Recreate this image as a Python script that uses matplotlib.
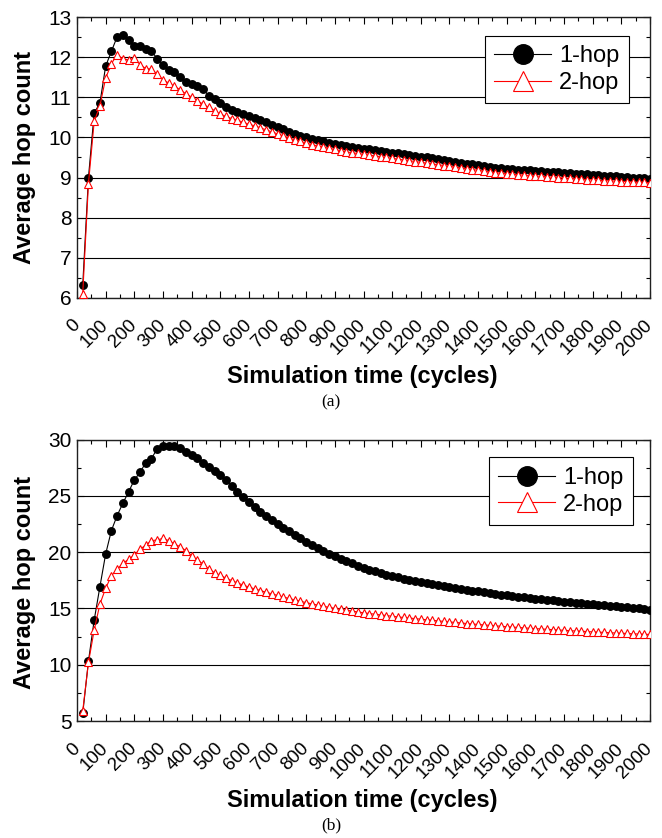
import matplotlib
matplotlib.use('Agg')
import matplotlib.pyplot as plt
import numpy as np
from matplotlib.ticker import MultipleLocator

plt.rcParams['font.family'] = ['Liberation Sans', 'DejaVu Sans']

# simulation time (cycles), one sample every 20 cycles
cycles = list(range(20, 2001, 20))

# (a) average hop count
a_1hop = [6.31, 9.00, 10.61, 10.86, 11.78, 12.15, 12.51, 12.56, 12.43, 12.28,
          12.28, 12.22, 12.15, 11.97, 11.80, 11.69, 11.63, 11.51, 11.38, 11.33,
          11.28, 11.21, 11.04, 10.96, 10.86, 10.76, 10.69, 10.64, 10.59, 10.54,
          10.48, 10.43, 10.38, 10.31, 10.26, 10.20, 10.14, 10.08, 10.04, 10.00,
          9.96, 9.93, 9.90, 9.87, 9.84, 9.81, 9.79, 9.76, 9.74, 9.72,
          9.70, 9.68, 9.66, 9.64, 9.62, 9.60, 9.58, 9.56, 9.54, 9.52,
          9.50, 9.48, 9.46, 9.44, 9.42, 9.40, 9.37, 9.35, 9.33, 9.31,
          9.29, 9.27, 9.25, 9.24, 9.22, 9.21, 9.20, 9.19, 9.18, 9.17,
          9.16, 9.15, 9.14, 9.13, 9.12, 9.11, 9.10, 9.09, 9.08, 9.07,
          9.06, 9.05, 9.04, 9.03, 9.02, 9.01, 9.00, 8.99, 8.98, 8.97]
a_2hop = [6.10, 8.85, 10.40, 10.79, 11.48, 11.84, 12.07, 11.96, 11.94, 11.98,
          11.82, 11.72, 11.71, 11.58, 11.44, 11.36, 11.28, 11.19, 11.09, 11.01,
          10.92, 10.83, 10.75, 10.67, 10.58, 10.53, 10.47, 10.43, 10.38, 10.33,
          10.29, 10.24, 10.19, 10.14, 10.09, 10.04, 9.99, 9.94, 9.90, 9.86,
          9.82, 9.79, 9.76, 9.73, 9.70, 9.67, 9.64, 9.62, 9.60, 9.58,
          9.56, 9.54, 9.52, 9.50, 9.48, 9.46, 9.44, 9.42, 9.40, 9.38,
          9.36, 9.34, 9.32, 9.30, 9.28, 9.26, 9.24, 9.22, 9.20, 9.18,
          9.16, 9.14, 9.12, 9.11, 9.10, 9.08, 9.07, 9.06, 9.05, 9.04,
          9.03, 9.02, 9.01, 9.00, 8.99, 8.98, 8.97, 8.96, 8.95, 8.94,
          8.93, 8.92, 8.92, 8.91, 8.90, 8.90, 8.89, 8.88, 8.88, 8.87]

# (b) average hop count
b_1hop = [5.67, 10.32, 13.97, 16.94, 19.84, 21.92, 23.25, 24.35, 25.36, 26.42,
          27.10, 27.96, 28.32, 29.21, 29.45, 29.48, 29.48, 29.24, 28.88, 28.65,
          28.35, 27.96, 27.61, 27.25, 26.87, 26.42, 25.92, 25.36, 24.94, 24.50,
          24.05, 23.61, 23.22, 22.87, 22.52, 22.18, 21.85, 21.53, 21.22, 20.93,
          20.65, 20.38, 20.12, 19.87, 19.63, 19.41, 19.20, 19.00, 18.81, 18.63,
          18.46, 18.30, 18.15, 18.01, 17.88, 17.76, 17.65, 17.54, 17.43, 17.33,
          17.23, 17.14, 17.05, 16.96, 16.88, 16.80, 16.72, 16.65, 16.58, 16.51,
          16.44, 16.37, 16.30, 16.24, 16.18, 16.12, 16.06, 16.00, 15.94, 15.88,
          15.82, 15.76, 15.71, 15.66, 15.61, 15.56, 15.51, 15.46, 15.41, 15.36,
          15.32, 15.27, 15.22, 15.18, 15.13, 15.09, 15.04, 15.00, 14.95, 14.90]
b_2hop = [5.90, 10.20, 13.08, 15.39, 16.79, 17.91, 18.48, 19.01, 19.37, 19.75,
          20.26, 20.64, 21.03, 21.09, 21.23, 21.03, 20.73, 20.49, 20.14, 19.69,
          19.31, 18.95, 18.51, 18.18, 17.95, 17.70, 17.48, 17.27, 17.08, 16.90,
          16.74, 16.59, 16.45, 16.30, 16.16, 16.02, 15.89, 15.76, 15.64, 15.52,
          15.41, 15.30, 15.20, 15.10, 15.01, 14.93, 14.85, 14.77, 14.69, 14.62,
          14.55, 14.49, 14.43, 14.37, 14.31, 14.25, 14.20, 14.15, 14.10, 14.05,
          14.00, 13.95, 13.90, 13.85, 13.80, 13.76, 13.72, 13.66, 13.62, 13.58,
          13.54, 13.50, 13.46, 13.42, 13.38, 13.35, 13.31, 13.28, 13.24, 13.21,
          13.18, 13.15, 13.12, 13.09, 13.06, 13.03, 13.00, 12.98, 12.95, 12.92,
          12.90, 12.87, 12.85, 12.82, 12.80, 12.78, 12.75, 12.73, 12.71, 12.69]

xticks = list(range(0, 2001, 100))


def draw_panel(ax, y1, y2, ylim, ystep, leg_anchor):
    ax.plot(cycles, y1, color='k', lw=0.8, marker='o', ms=5.4,
            mfc='k', mec='k', label='1-hop', zorder=3)
    ax.plot(cycles, y2, color='#ff0000', lw=0.8, marker='^', ms=5.6,
            mfc='white', mec='#ff0000', mew=0.8, label='2-hop', zorder=4)
    ax.set_xlim(0, 2000)
    ax.set_ylim(*ylim)
    ax.set_xticks(xticks)
    ax.set_xticklabels([str(t) for t in xticks], rotation=45, ha='right',
                       va='center', rotation_mode='anchor', fontsize=13.5)
    ax.xaxis.set_minor_locator(MultipleLocator(50))
    ax.yaxis.set_major_locator(MultipleLocator(ystep))
    ax.yaxis.set_minor_locator(MultipleLocator(ystep / 2))
    ax.tick_params(axis='y', labelsize=15)
    ax.tick_params(which='both', direction='in', top=True, right=True)
    ax.tick_params(which='major', length=5, width=0.8, pad=4)
    ax.tick_params(which='minor', length=3, width=0.8)
    ax.tick_params(axis='x', which='major', pad=18)
    ax.grid(axis='y', color='k', lw=0.8)
    ax.set_axisbelow(True)
    for s in ax.spines.values():
        s.set_linewidth(1.0)
        s.set_color('#202020')
    leg = ax.legend(loc='upper right', bbox_to_anchor=leg_anchor,
                    borderaxespad=0, fontsize=17, markerscale=2.6,
                    handlelength=2.4, handletextpad=0.35, borderpad=0.4,
                    labelspacing=0.2, fancybox=False, edgecolor='k',
                    framealpha=1)
    leg.get_frame().set_linewidth(0.8)


W, H = 662, 838
fig = plt.figure(figsize=(W / 100, H / 100), dpi=100)

ax1 = fig.add_axes([77 / W, 1 - 297.7 / H, 573 / W, 280.4 / H])
draw_panel(ax1, a_1hop, a_2hop, (6, 13), 1, (0.963, 0.934))

ax2 = fig.add_axes([77 / W, 1 - 721 / H, 573 / W, 281.3 / H])
draw_panel(ax2, b_1hop, b_2hop, (5, 30), 5, (0.97, 0.937))

for ax, ymid, xl_y, cap_y, cap in [(ax1, 157, 377, 402, '(a)'),
                                    (ax2, 582, 800, 825, '(b)')]:
    fig.text(25 / W, 1 - ymid / H, 'Average hop count', rotation=90,
             ha='center', va='center', fontsize=17, fontweight='bold')
    fig.text(362 / W, 1 - xl_y / H, 'Simulation time (cycles)',
             ha='center', va='center', fontsize=17, fontweight='bold')
    fig.text(331 / W, 1 - cap_y / H, cap, ha='center', va='center',
             fontsize=12.5, family='Liberation Serif')

fig.savefig('out.png', dpi=100)
